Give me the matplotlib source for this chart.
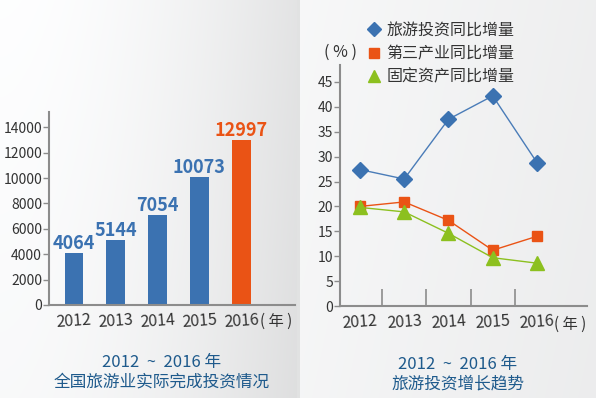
import numpy as np
import matplotlib
matplotlib.use("Agg")
import matplotlib.pyplot as plt
from matplotlib.lines import Line2D
from matplotlib import font_manager

plt.rcParams['font.family'] = ['Noto Sans CJK SC', 'DejaVu Sans']

# ---------------- data ----------------
years = ['2012', '2013', '2014', '2015', '2016']
investment = [4064, 5144, 7054, 10073, 12997]
tourism_growth = [27.4, 25.5, 37.5, 42.2, 28.8]
tertiary_growth = [20.0, 20.9, 17.2, 11.2, 14.0]
fixed_growth = [19.8, 18.9, 14.6, 9.7, 8.6]
legend_labels = ['旅游投资同比增量', '第三产业同比增量', '固定资产同比增量']
left_title = '2012  ~  2016 年\n全国旅游业实际完成投资情况'
right_title = '2012  ~  2016 年\n旅游投资增长趋势'

W, H = 596, 398
fig = plt.figure(figsize=(W / 100, H / 100), dpi=100)

# ---------------- background ----------------
bg = fig.add_axes([0, 0, 1, 1], zorder=-10)
xx = np.arange(W)[None, :] * np.ones((H, 1))
yy = np.arange(H)[:, None] * np.ones((1, W))
img = np.ones((H, W))
left = xx < 299
t = np.clip(xx / 298.0, 0, 1)
img = np.where(left, 1.0 - 0.105 * t ** 1.8 - 0.02 * (yy / H), img)
tr = np.clip((xx - 300) / 296.0, 0, 1)
img = np.where(~left, 0.975 - 0.035 * tr - 0.01 * (yy / H), img)
img = np.where((xx >= 297) & (xx < 300), 0.89, img)
rgb = np.dstack([img * 0.995, img * 0.997, img])
bg.imshow(rgb, aspect='auto', extent=[0, W, H, 0])
bg.set_axis_off()

axis_col = '#8c8c8c'
text_col = '#333333'
title_col = '#1e5a8c'
blue = '#3b72b1'
orange = '#ea5315'
green = '#8cc01f'

# ---------------- left bar chart ----------------
ax1 = fig.add_axes([49 / W, 1 - 305 / H, 246 / W, 193 / H])
ax1.patch.set_alpha(0)
x = np.arange(len(years))
colors = [blue] * (len(years) - 1) + [orange]
ax1.bar(x, investment, width=0.45, color=colors, zorder=2)
for xi, v, c in zip(x, investment, colors):
    ax1.annotate(str(v), (xi, v), xytext=(0, 0), textcoords='offset points',
                 ha='center', va='bottom', fontsize=13, fontweight='bold', color=c)
ax1.set_xlim(-0.6, 5.29)
ax1.set_ylim(0, 15200)
ax1.set_yticks(range(0, 14001, 2000))
ax1.set_xticks(x)
ax1.set_xticklabels(years, rotation=4)
for s in ['top', 'right']:
    ax1.spines[s].set_visible(False)
for s in ['left', 'bottom']:
    ax1.spines[s].set_color(axis_col)
    ax1.spines[s].set_linewidth(1.5)
ax1.tick_params(axis='y', direction='out', length=4, width=1, color=axis_col,
                labelsize=10, labelcolor=text_col, pad=1)
ax1.tick_params(axis='x', length=0, labelsize=11.5, labelcolor=text_col, pad=5)
ax1.text(4.85, -0.085, '( 年 )', transform=ax1.get_xaxis_transform(),
         ha='center', va='center', fontsize=11, color=text_col)

# ---------------- right line chart ----------------
ax2 = fig.add_axes([340 / W, 1 - 306 / H, 247 / W, 241 / H])
ax2.patch.set_alpha(0)
l1, = ax2.plot(x, tourism_growth, color='#4a7cb8', lw=1, marker='D', ms=8,
               mfc=blue, mec=blue, label=legend_labels[0], zorder=3)
l2, = ax2.plot(x, tertiary_growth, color=orange, lw=1, marker='s', ms=7.5,
               mfc=orange, mec=orange, label=legend_labels[1], zorder=3)
l3, = ax2.plot(x, fixed_growth, color=green, lw=1, marker='^', ms=9.5,
               mfc=green, mec=green, label=legend_labels[2], zorder=3)
ax2.set_xlim(-0.45, 5.13)
ax2.set_ylim(0, 48.4)
ax2.set_yticks(range(0, 46, 5))
ax2.set_xticks(x)
ax2.set_xticklabels(years, rotation=4)
ax2.set_xticks(x[:-1] + 0.5, minor=True)
for s in ['top', 'right']:
    ax2.spines[s].set_visible(False)
for s in ['left', 'bottom']:
    ax2.spines[s].set_color(axis_col)
    ax2.spines[s].set_linewidth(1.5)
ax2.tick_params(axis='y', direction='out', length=4, width=1, color=axis_col,
                labelsize=10, labelcolor=text_col, pad=1)
ax2.tick_params(axis='x', which='major', length=0, labelsize=11.5,
                labelcolor=text_col, pad=5)
ax2.tick_params(axis='x', which='minor', direction='in', length=12, width=1.2,
                color=axis_col)
ax2.text(4.75, -0.075, '( 年 )', transform=ax2.get_xaxis_transform(),
         ha='center', va='center', fontsize=11, color=text_col)
fig.text(340 / W, 1 - 52 / H, '( % )', ha='center', va='center',
         fontsize=11.5, color=text_col)

leg = fig.legend(handles=[l1, l2, l3], labels=legend_labels,
                 loc='upper left', bbox_to_anchor=(367 / W, 1 - 22 / H),
                 frameon=False, fontsize=11.5, handlelength=0.9,
                 handletextpad=0.3, labelspacing=0.4, borderpad=0,
                 borderaxespad=0, markerscale=0.95)
for h in leg.legend_handles:
    h.set_linestyle('None')
for txt in leg.get_texts():
    txt.set_color(text_col)

# ---------------- titles ----------------
fig.text(162 / W, 1 - 372 / H, left_title, ha='center', va='center',
         fontsize=12, color=title_col, linespacing=1.2)
fig.text(458 / W, 1 - 374 / H, right_title, ha='center', va='center',
         fontsize=12, color=title_col, linespacing=1.2)

fig.savefig('out.png', dpi=100)
